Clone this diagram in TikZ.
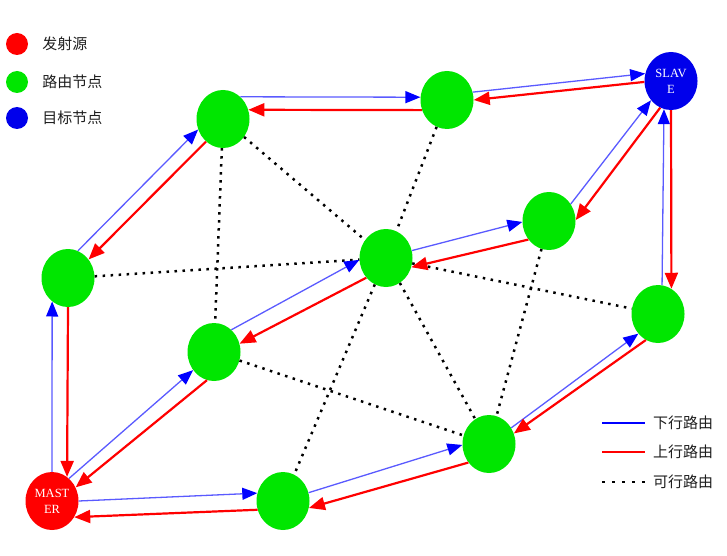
\documentclass[tikz,border=0pt]{standalone}
\usepackage{fontspec}
\usepackage{xcolor}
\usepackage{tikz}
\usetikzlibrary{shapes.geometric, arrows.meta, positioning}
\newfontfamily\cjk{Noto Sans CJK SC}
\newfontfamily\tagfont{Liberation Serif}
\definecolor{srcred}{RGB}{255,0,0}
\definecolor{routegreen}{RGB}{0,230,0}
\definecolor{dstblue}{RGB}{0,0,235}
\definecolor{linkblue}{RGB}{90,90,255}
\definecolor{legendgray}{RGB}{30,30,30}

\begin{document}
\begin{tikzpicture}[x=1pt, y=1pt,
    router/.style={ellipse, fill=routegreen, minimum width=53pt, minimum height=58pt, inner sep=0pt},
    master/.style={router, fill=srcred, text=white, font=\tagfont\fontsize{12.5}{16}\selectfont, align=center},
    slave/.style={master, fill=dstblue},
    legdot/.style={circle, minimum size=22pt, inner sep=0pt},
    legtext/.style={font=\cjk\fontsize{15}{15}\selectfont, text=legendgray, inner sep=0pt},
    downlink/.style={draw=linkblue, line width=1.3pt, -{Triangle[length=15pt, width=12pt, color=blue]}},
    uplink/.style={draw=srcred, line width=2.2pt, -{Triangle[length=16pt, width=13pt]}},
    feasible/.style={line width=2.5pt, dash pattern=on 2.5pt off 5.5pt}
]
\useasboundingbox (0,0) rectangle (727,555);

% Legend: node types
\node[legdot, fill=srcred] (lsrc) at (17,511) {};
\node[legdot, fill=routegreen] (lrt) at (17,473) {};
\node[legdot, fill=dstblue] (ldst) at (17,437) {};
\node[legtext, right=14pt of lsrc] (tsrc) {发射源};
\node[legtext, right=14pt of lrt] (trt) {路由节点};
\node[legtext, right=14pt of ldst] (tdst) {目标节点};

% Network nodes
\node[master] (m) at (52,54) {MAST\\ER};
\node[router] (a) at (68,277) {};
\node[router] (b) at (223,436) {};
\node[router] (c) at (447,455) {};
\node[slave] (s) at (671,474) {SLAV\\E};
\node[router] (d) at (549,334) {};
\node[router] (e) at (386,297) {};
\node[router] (f) at (214,203) {};
\node[router] (g) at (658,241) {};
\node[router] (h) at (489,111) {};
\node[router] (i) at (283,54) {};

% Feasible routes
\draw[feasible] (a) -- (e);
\draw[feasible] (b) -- (f);
\draw[feasible] (b) -- (e);
\draw[feasible] (c) -- (e);
\draw[feasible] (e) -- (i);
\draw[feasible] (e) -- (h);
\draw[feasible] (f) -- (h);
\draw[feasible] (e) -- (g);
\draw[feasible] (d) -- (h);

% Upper path
\draw[downlink] (m.90) -- (a.236);
\draw[uplink] (a.270) -- (m.58);
\draw[downlink] (a.70) -- (b.203);
\draw[uplink] (b.233) -- (a.42);
\draw[downlink] (b.52) -- (c.174);
\draw[uplink] (c.202) -- (b.20);
\draw[downlink] (c.17) -- (s.164);
\draw[uplink] (s.182) -- (c.0);

% Middle path
\draw[downlink] (m.53) -- (f.221);
\draw[uplink] (f.256) -- (m.30);
\draw[downlink] (f.52) -- (e.184);
\draw[uplink] (e.225) -- (f.18);
\draw[downlink] (e.16) -- (d.182);
\draw[uplink] (d.222) -- (e.340);
\draw[downlink] (d.38) -- (s.224);
\draw[uplink] (s.248) -- (d.2);

% Lower path
\draw[downlink] (m.0) -- (i.163);
\draw[uplink] (i.199) -- (m.324);
\draw[downlink] (i.18) -- (h.182);
\draw[uplink] (h.222) -- (i.345);
\draw[downlink] (h.36) -- (g.225);
\draw[uplink] (g.245) -- (h.23);
\draw[downlink] (g.82) -- (s.256);
\draw[uplink] (s.270) -- (g.62);

% Legend: routes
\coordinate (k1) at (602,132);
\coordinate (k2) at (645,132);
\coordinate (k3) at (602,103);
\coordinate (k4) at (645,103);
\coordinate (k5) at (602,73);
\coordinate (k6) at (645,73);
\draw[line width=2pt, blue] (k1) -- (k2);
\draw[line width=2pt, srcred] (k3) -- (k4);
\draw[feasible, dash pattern=on 2.5pt off 7.5pt] (k5) -- (k6);
\node[legtext, right=8pt of k2] (tdown) {下行路由};
\node[legtext, right=8pt of k4] (tup) {上行路由};
\node[legtext, right=8pt of k6] (tfeas) {可行路由};

\end{tikzpicture}
\end{document}
